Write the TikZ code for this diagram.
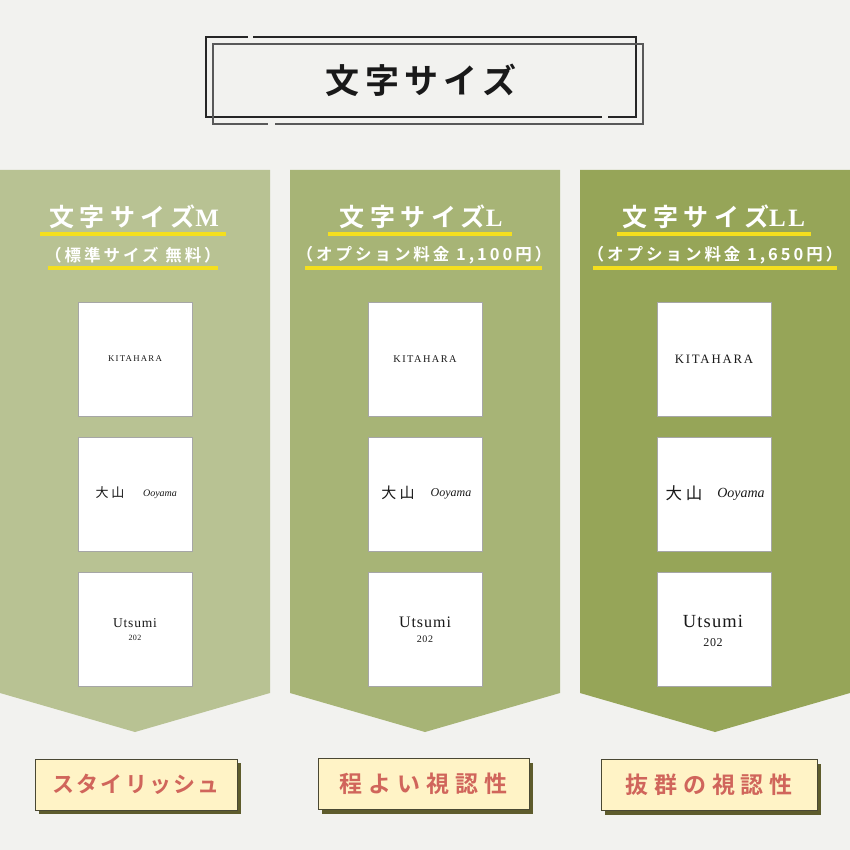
\documentclass[tikz,border=0pt]{standalone}
\usepackage{fontspec}
\setmainfont{Liberation Serif}
\newfontfamily\jp{Noto Sans CJK JP}[BoldFont={Noto Sans CJK JP Bold}]
\newfontfamily\jptitle{Noto Sans CJK JP}[BoldFont={Noto Sans CJK JP Bold},LetterSpace=16]
\newfontfamily\jphead{Noto Sans CJK JP}[BoldFont={Noto Sans CJK JP Bold},LetterSpace=22]
\newfontfamily\jpsub{Noto Sans CJK JP}[BoldFont={Noto Sans CJK JP Bold},LetterSpace=18]
\newfontfamily\jplbl{Noto Sans CJK JP}[BoldFont={Noto Sans CJK JP Bold},LetterSpace=10]
\newfontfamily\jplblw{Noto Sans CJK JP}[BoldFont={Noto Sans CJK JP Bold},LetterSpace=26]
\newfontfamily\capsf{Liberation Serif}[LetterSpace=14]
\newfontfamily\utsf{Liberation Serif}[LetterSpace=6]
\definecolor{bgc}{HTML}{F2F2EF}
\definecolor{bannerA}{HTML}{B8C293}
\definecolor{bannerB}{HTML}{A7B476}
\definecolor{bannerC}{HTML}{96A558}
\definecolor{ulyellow}{HTML}{F4DF1E}
\definecolor{lblfill}{HTML}{FFF3C6}
\definecolor{lbltext}{HTML}{D0655B}
\definecolor{shadowc}{HTML}{5E5C2C}
\definecolor{lblborder}{HTML}{4A4833}
\tikzset{
  sq/.style={draw=black!35, line width=0.6pt, fill=white, minimum width=114pt, minimum height=114pt, inner sep=0pt},
  headtxt/.style={text=white, font=\jphead\fontsize{25}{25}\selectfont\bfseries, inner sep=0pt},
  subtxt/.style={text=white, font=\jpsub\fontsize{16.5}{16.5}\selectfont\bfseries, inner sep=0pt},
  ulline/.style={draw=ulyellow, line width=3.5pt},
  lblbox/.style={draw=lblborder, line width=0.8pt, fill=lblfill, minimum height=51pt, inner sep=0pt},
  lblshadow/.style={fill=shadowc, minimum height=51pt, inner sep=0pt},
  lbltxt/.style={text=lbltext, font=\fontsize{23}{23}\selectfont\bfseries, inner sep=0pt},
  smalltxt/.style={inner sep=0pt, text=black!90},
}
\begin{document}
\begin{tikzpicture}[x=1pt,y=-1pt]
\useasboundingbox (0,0) rectangle (850,850);
\fill[bgc] (0,0) rectangle (850,850);
% title frame
\draw[line width=2.6pt, black!85] (253,37) -- (636,37) -- (636,117) -- (608,117)
   (602,117) -- (206,117) -- (206,37) -- (248,37);
\draw[line width=1.2pt, black!65] (275,124) -- (643,124) -- (643,44) -- (213,44) -- (213,124) -- (268,124);
\node[font=\jptitle\fontsize{34}{34}\selectfont\bfseries, text=black!90, inner sep=0pt] (title) at (421,80) {文字サイズ};
% banners
\fill[bannerA] (0,170) -- (270,170) -- (270,693) -- (135,732) -- (0,693) -- cycle;
\fill[bannerB] (290,170) -- (560,170) -- (560,693) -- (425,732) -- (290,693) -- cycle;
\fill[bannerC] (580,170) -- (850,170) -- (850,693) -- (715,732) -- (580,693) -- cycle;
% headings
\node[headtxt] (h1) at (134,217) {文字サイズ{\fontspec{Liberation Serif}[LetterSpace=0]M}};
\node[headtxt] (h2) at (421,217) {文字サイズ{\fontspec{Liberation Serif}[LetterSpace=0]L}};
\node[headtxt] (h3) at (714,217) {文字サイズ{\fontspec{Liberation Serif}[LetterSpace=10]LL}};
\draw[ulline] (40,234) -- (226,234);
\draw[ulline] (328,234) -- (512,234);
\draw[ulline] (617,234) -- (811,234);
\node[subtxt] (s1) at (133,255) {（標準サイズ 無料）};
\node[subtxt] (s2) at (424,255) {（オプション料金 1,100円）};
\node[subtxt] (s3) at (715,255) {（オプション料金 1,650円）};
\draw[ulline] (48,268) -- (218,268);
\draw[ulline] (305,268) -- (542,268);
\draw[ulline] (593,268) -- (837,268);
% squares
\foreach \c/\x in {a/135,b/425,c/714}{
  \node[sq] (k\c) at (\x,359) {};
  \node[sq] (o\c) at (\x,494) {};
  \node[sq] (u\c) at (\x,629.5) {};
}
% KITAHARA
\node[smalltxt, font=\capsf\fontsize{8.8}{8.8}\selectfont] (ka1) at (ka) {KITAHARA};
\node[smalltxt, font=\capsf\fontsize{10.3}{10.3}\selectfont] (kb1) at (kb) {KITAHARA};
\node[smalltxt, font=\capsf\fontsize{12.8}{12.8}\selectfont] (kc1) at (kc) {KITAHARA};
% Ooyama
\node[smalltxt, font=\jp\fontsize{13}{13}\selectfont] (oa1) at (110,493) {大 山};
\node[smalltxt, font=\itshape\fontsize{10}{10}\selectfont] (oa2) at (160,494) {Ooyama};
\node[smalltxt, font=\jp\fontsize{15}{15}\selectfont] (ob1) at (398,493) {大 山};
\node[smalltxt, font=\itshape\fontsize{12}{12}\selectfont] (ob2) at (451,494) {Ooyama};
\node[smalltxt, font=\jp\fontsize{16.5}{16.5}\selectfont] (oc1) at (684,493) {大 山};
\node[smalltxt, font=\itshape\fontsize{14}{14}\selectfont] (oc2) at (741,494) {Ooyama};
% Utsumi
\node[smalltxt, font=\utsf\fontsize{13.5}{13.5}\selectfont] (ua1) at (135,623) {Utsumi};
\node[smalltxt, font=\utsf\fontsize{8}{8}\selectfont] (ua2) at (135,638) {202};
\node[smalltxt, font=\utsf\fontsize{16}{16}\selectfont] (ub1) at (425,622) {Utsumi};
\node[smalltxt, font=\utsf\fontsize{10}{10}\selectfont] (ub2) at (425,639) {202};
\node[smalltxt, font=\utsf\fontsize{18.5}{18.5}\selectfont] (uc1) at (713,621) {Utsumi};
\node[smalltxt, font=\utsf\fontsize{12}{12}\selectfont] (uc2) at (713,643) {202};
% labels
\node[lblshadow, minimum width=202pt] (ls1) at (140,788) {};
\node[lblbox, minimum width=202pt] (l1) at (136,784.5) {};
\node[lbltxt, font=\jplbl\fontsize{22}{22}\selectfont\bfseries] (t1) at (l1) {スタイリッシュ};
\node[lblshadow, minimum width=211pt] (ls2) at (427.5,788) {};
\node[lblbox, minimum width=211pt] (l2) at (423.5,784) {};
\node[lbltxt, font=\jplblw\fontsize{23}{23}\selectfont\bfseries] (t2) at (l2) {程よい視認性};
\node[lblshadow, minimum width=216pt] (ls3) at (713,789) {};
\node[lblbox, minimum width=216pt] (l3) at (709,785) {};
\node[lbltxt, font=\jplblw\fontsize{23}{23}\selectfont\bfseries] (t3) at (l3) {抜群の視認性};
\end{tikzpicture}
\end{document}
